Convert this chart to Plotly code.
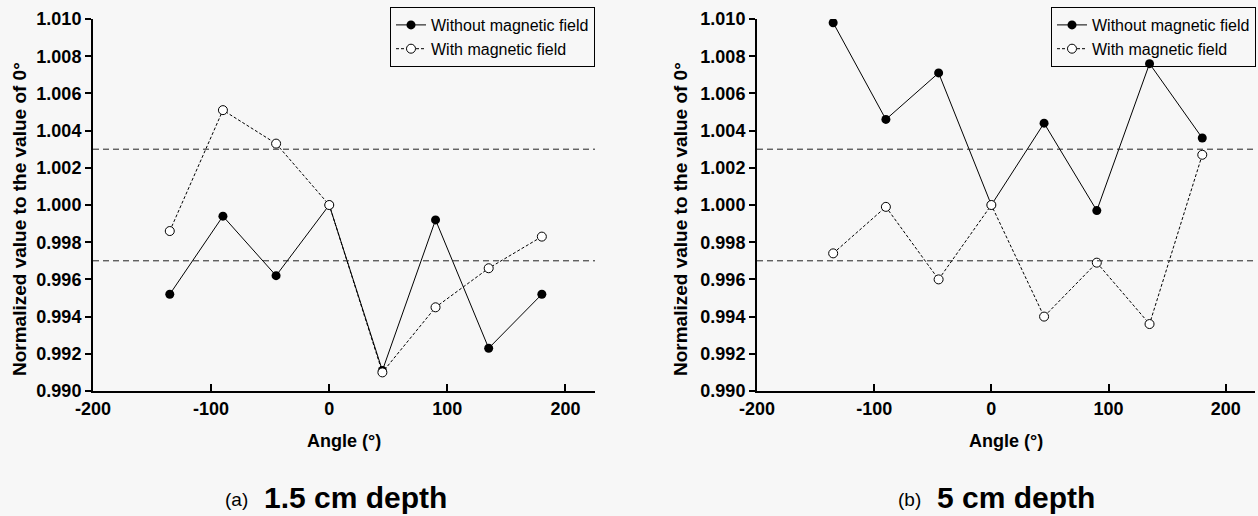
import plotly.graph_objects as go

angles = [-135, -90, -45, 0, 45, 90, 135, 180]

a_without = [0.9952, 0.9994, 0.9962, 1.0000, 0.9911, 0.9992, 0.9923, 0.9952]
a_with = [0.9986, 1.0051, 1.0033, 1.0000, 0.9910, 0.9945, 0.9966, 0.9983]

b_without = [1.0098, 1.0046, 1.0071, 1.0000, 1.0044, 0.9997, 1.0076, 1.0036]
b_with = [0.9974, 0.9999, 0.9960, 1.0000, 0.9940, 0.9969, 0.9936, 1.0027]

ref_levels = [1.003, 0.997]
x_ticks = [-200, -100, 0, 100, 200]
x_ticktext = ["-200", "-100", "0", "100", "200"]
y_ticks = [0.990, 0.992, 0.994, 0.996, 0.998, 1.000, 1.002, 1.004, 1.006, 1.008, 1.010]
y_ticktext = ["0.990", "0.992", "0.994", "0.996", "0.998", "1.000",
              "1.002", "1.004", "1.006", "1.008", "1.010"]

W, H = 1258, 516
BG = "#f7f7f7"
FONT = "Liberation Sans, Arial, sans-serif"

fig = go.Figure()

panels = [
    ("x", "y", a_without, a_with, "legend"),
    ("x2", "y2", b_without, b_with, "legend2"),
]
for xa, ya, wo, wi, lg in panels:
    fig.add_trace(go.Scatter(
        x=angles, y=wo, xaxis=xa, yaxis=ya, mode="lines+markers",
        name="Without magnetic field", legend=lg,
        line=dict(color="black", width=1),
        marker=dict(symbol="circle", size=9, color="black"),
    ))
    fig.add_trace(go.Scatter(
        x=angles, y=wi, xaxis=xa, yaxis=ya, mode="lines+markers",
        name="With magnetic field", legend=lg,
        line=dict(color="black", width=1, dash="3px,2px"),
        marker=dict(symbol="circle", size=9, color="white", line=dict(width=1, color="black")),
    ))
    for lvl in ref_levels:
        fig.add_shape(type="line", xref=xa, yref=ya, x0=-200, x1=225, y0=lvl, y1=lvl,
                      line=dict(color="#222222", width=1, dash="6px,4px"))

xaxis_common = dict(
    range=[-200, 225], tickvals=x_ticks, ticktext=x_ticktext, showgrid=False, zeroline=False,
    showline=True, linecolor="black", linewidth=2, automargin=False,
    ticks="inside", ticklen=7, tickwidth=2, tickcolor="black",
    tickfont=dict(family=FONT, size=18, color="black", weight="bold"),
)
yaxis_common = dict(
    range=[0.990, 1.010], tickvals=y_ticks, ticktext=y_ticktext, showgrid=False, zeroline=False,
    showline=True, linecolor="black", linewidth=2, automargin=False,
    ticks="outside", ticklen=6, tickwidth=2, tickcolor="black",
    tickfont=dict(family=FONT, size=18, color="black", weight="bold"),
    domain=[1 - 391 / H, 1 - 19 / H],
)

legend_common = dict(
    xanchor="right", yanchor="top", y=1 - 7 / H,
    bgcolor="rgba(0,0,0,0)", bordercolor="black", borderwidth=1,
    font=dict(family=FONT, size=16, color="black"), tracegroupgap=0,
)

fig.update_layout(
    width=W, height=H, margin=dict(l=0, r=0, t=0, b=0, autoexpand=False),
    paper_bgcolor=BG, plot_bgcolor=BG,
    xaxis=dict(xaxis_common, domain=[93 / W, 595 / W], anchor="y"),
    yaxis=dict(yaxis_common, anchor="x"),
    xaxis2=dict(xaxis_common, domain=[757 / W, 1255 / W], anchor="y2"),
    yaxis2=dict(yaxis_common, anchor="x2"),
    legend=dict(legend_common, x=595 / W),
    legend2=dict(legend_common, x=1256 / W),
    showlegend=True,
)

ann = []
ytitle = "Normalized value to the value of 0°"
for cx, ycx in [((93 + 595) / 2, 19), ((757 + 1255) / 2, 680)]:
    ann.append(dict(text="Angle (°)", x=cx / W, y=1 - 441 / H, xref="paper", yref="paper",
                    xanchor="center", yanchor="middle", showarrow=False,
                    font=dict(family=FONT, size=18, color="black", weight="bold")))
    ann.append(dict(text=ytitle, x=ycx / W, y=1 - 219 / H, xref="paper", yref="paper",
                    xanchor="center", yanchor="middle", showarrow=False, textangle=-90,
                    font=dict(family=FONT, size=19, color="black", weight="bold")))

captions = [("(a)", 223, "1.5 cm depth", 262), ("(b)", 896, "5 cm depth", 935)]
for lab, lx, txt, tx in captions:
    ann.append(dict(text=lab, x=lx / W, y=1 - 499 / H, xref="paper", yref="paper",
                    xanchor="left", yanchor="middle", showarrow=False,
                    font=dict(family=FONT, size=19, color="black")))
    ann.append(dict(text=txt, x=tx / W, y=1 - 497 / H, xref="paper", yref="paper",
                    xanchor="left", yanchor="middle", showarrow=False,
                    font=dict(family=FONT, size=30, color="black", weight="bold")))
fig.update_layout(annotations=ann)

fig.write_html("out.html")
